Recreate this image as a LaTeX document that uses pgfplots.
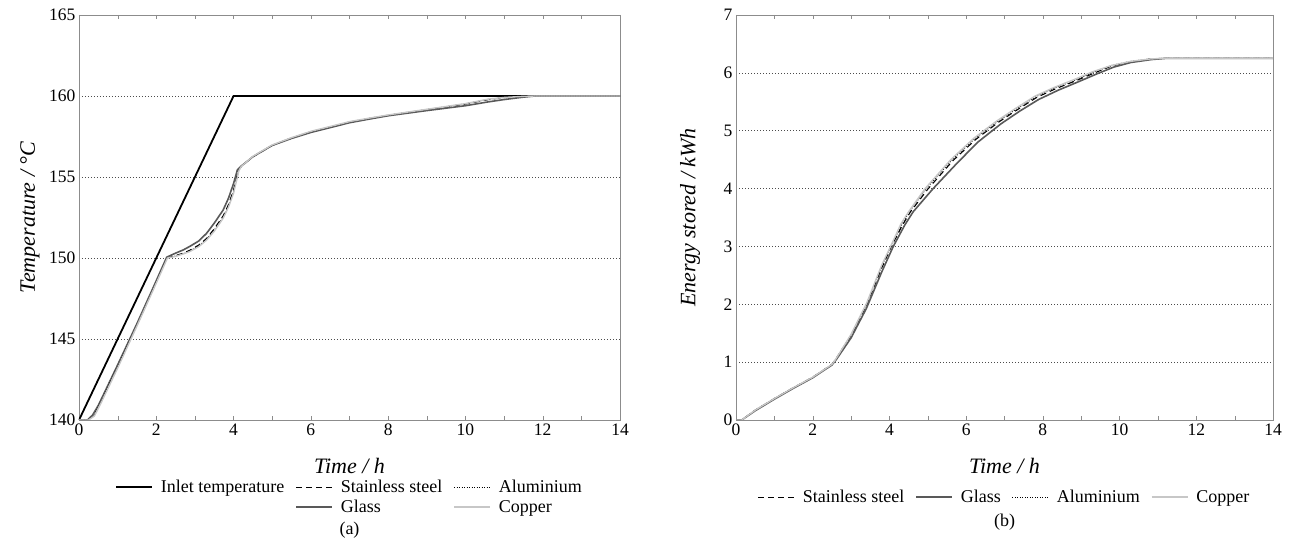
\documentclass[border=0pt]{standalone}
\usepackage{fontspec}
\setmainfont{Liberation Serif}
\usepackage{pgfplots}
\pgfplotsset{compat=1.18}

\definecolor{glassgray}{gray}{0.35}
\definecolor{coppergray}{gray}{0.78}

\pgfplotsset{
  panel/.style={
    scale only axis,
    axis line style={draw=black!45},
    xmin=0, xmax=14,
    xtick={0,2,...,14},
    minor x tick num=1,
    xtick pos=both,
    tick align=inside,
    major tick length=4pt,
    minor tick length=4pt,
    xtick style={draw=black!45},
    ytick style={draw=none},
    ymajorgrids,
    major grid style={black!70, dash pattern=on 1pt off 2pt, line width=0.6pt},
    /pgf/number format/assume math mode=true,
    tick label style={font=\fontsize{17.5}{20}\selectfont},
    label style={font=\fontsize{22}{25}\selectfont\itshape},
    xlabel style={at={([yshift=-46pt]axis description cs:0.5,0)}, anchor=center},
    legend cell align=left,
    legend style={draw=none, fill=none, font=\fontsize{18}{21}\selectfont,
      /tikz/every odd column/.append style={column sep=6pt},
      /tikz/every even column/.append style={column sep=9pt},
      /tikz/row sep=2pt},
    legend image code/.code={\draw[#1] (0pt,0pt) -- (36pt,0pt);},
  },
  inlet/.style={black, line width=1.8pt},
  steel/.style={black, line width=1.1pt, dash pattern=on 6pt off 4pt},
  glass/.style={glassgray, line width=1.6pt},
  alu/.style={black, line width=0.9pt, dash pattern=on 1pt off 1.5pt},
  copper/.style={coppergray, line width=1.4pt},
}

\begin{document}
\begin{tikzpicture}
% page frame, same margins as the reference
\path (-79pt,-119pt) rectangle (1214pt,420pt);

% (a) temperature
\begin{axis}[
  panel,
  name=left,
  width=541pt, height=405pt,
  ymin=140, ymax=165,
  ytick={140,145,...,165},
  xlabel={Time / h},
  ylabel={Temperature / °C},
  ylabel style={at={([xshift=-49pt]axis description cs:0,0.5)}, anchor=center},
  legend columns=3,
  legend style={at={(axis description cs:0.5,0)}, anchor=north, yshift=-56pt},
]
\addplot[inlet, forget plot] coordinates {(0,140) (4,160) (14,160)};
\addplot[steel, forget plot] coordinates {
  (0,140) (0.22,140) (0.35,140.25) (0.5,140.85) (1,143.35) (1.5,145.9) (2,148.55)
  (2.27,150.0) (2.5,150.15) (2.7,150.3) (2.87,150.48) (3.1,150.8) (3.3,151.2)
  (3.5,151.8) (3.73,152.6) (3.87,153.3) (4.0,154.2) (4.12,155.4) (4.2,155.65)
  (4.5,156.25) (5,156.95) (5.5,157.4) (6,157.78) (6.5,158.08) (7,158.38)
  (7.5,158.6) (8,158.8) (9,159.15) (10,159.5) (10.6,159.78) (11,159.9)
  (11.5,159.98) (11.8,160) (14,160)};
\addplot[glass, forget plot] coordinates {
  (0,140) (0.22,140) (0.35,140.3) (0.5,140.9) (1,143.4) (1.5,145.95) (2,148.6)
  (2.27,150.05) (2.5,150.3) (2.7,150.5) (2.87,150.72) (3.1,151.05) (3.3,151.52)
  (3.5,152.15) (3.73,152.96) (3.87,153.7) (4.0,154.6) (4.1,155.45) (4.2,155.68)
  (4.5,156.25) (5,156.95) (5.5,157.38) (6,157.75) (6.5,158.05) (7,158.35)
  (7.5,158.57) (8,158.78) (9,159.1) (10,159.4) (10.6,159.64) (11,159.78)
  (11.5,159.93) (11.8,160) (14,160)};
\addplot[alu, forget plot] coordinates {
  (0,140) (0.24,140) (0.38,140.25) (0.5,140.8) (1,143.3) (1.5,145.85) (2,148.5)
  (2.28,150.0) (2.5,150.12) (2.7,150.27) (2.87,150.43) (3.1,150.75) (3.3,151.15)
  (3.5,151.72) (3.73,152.5) (3.87,153.2) (4.0,154.1) (4.13,155.4) (4.2,155.65)
  (4.5,156.27) (5,156.97) (5.5,157.42) (6,157.8) (6.5,158.1) (7,158.4)
  (7.5,158.62) (8,158.82) (9,159.17) (10,159.52) (10.6,159.8) (11,159.9)
  (11.5,159.98) (11.8,160) (14,160)};
\addplot[copper, forget plot] coordinates {
  (0,140) (0.25,140) (0.4,140.25) (0.55,140.95) (1,143.2) (1.5,145.8) (2,148.45)
  (2.29,150.0) (2.5,150.1) (2.7,150.25) (2.87,150.4) (3.1,150.7) (3.3,151.1)
  (3.5,151.65) (3.73,152.45) (3.87,153.15) (4.0,154.0) (4.14,155.4) (4.2,155.65)
  (4.5,156.28) (5,156.98) (5.5,157.43) (6,157.82) (6.5,158.12) (7,158.42)
  (7.5,158.63) (8,158.83) (9,159.18) (10,159.53) (10.6,159.81) (11,159.91)
  (11.5,159.98) (11.8,160) (14,160)};
\addlegendimage{inlet}\addlegendentry{Inlet temperature}
\addlegendimage{steel}\addlegendentry{Stainless steel}
\addlegendimage{alu}\addlegendentry{Aluminium}
\addlegendimage{empty legend}\addlegendentry{}
\addlegendimage{glass}\addlegendentry{Glass}
\addlegendimage{copper}\addlegendentry{Copper}
\end{axis}
\node[font=\fontsize{18}{21}\selectfont] at ([yshift=-110pt]left.south) {(a)};

% (b) energy
\begin{axis}[
  panel,
  name=right,
  at={(657pt,0pt)},
  width=537pt, height=405pt,
  ymin=0, ymax=7,
  ytick={0,1,...,7},
  xlabel={Time / h},
  ylabel={Energy stored / kWh},
  ylabel style={at={([xshift=-46pt]axis description cs:0,0.5)}, anchor=center},
  legend columns=4,
  legend style={at={(axis description cs:0.5,0)}, anchor=north, yshift=-66pt},
]
\addplot[steel] coordinates {
  (0,0) (0.15,0) (0.5,0.17) (1,0.37) (1.5,0.56) (2,0.74) (2.5,0.96) (2.6,1.05)
  (3.0,1.46) (3.4,1.98) (3.8,2.63) (4.05,3.0) (4.35,3.38) (4.55,3.6) (5.0,3.99)
  (5.65,4.48) (6.25,4.85) (6.85,5.15) (7.35,5.37) (7.85,5.58) (8.35,5.73)
  (8.85,5.86) (9.35,6.0) (9.8,6.12) (10.3,6.19) (10.8,6.24) (11.1,6.25) (14,6.25)};
\addlegendentry{Stainless steel}
\addplot[glass] coordinates {
  (0,0) (0.15,0) (0.5,0.16) (1,0.36) (1.5,0.55) (2,0.73) (2.5,0.95) (2.62,1.05)
  (3.0,1.42) (3.4,1.93) (3.8,2.56) (4.1,3.0) (4.4,3.37) (4.62,3.6) (5.14,4.0)
  (5.75,4.43) (6.3,4.8) (6.91,5.12) (7.4,5.34) (7.89,5.54) (8.4,5.7) (8.87,5.83)
  (9.4,5.98) (9.85,6.1) (10.3,6.18) (10.83,6.23) (11.2,6.25) (14,6.25)};
\addlegendentry{Glass}
\addplot[alu] coordinates {
  (0,0) (0.15,0) (0.5,0.17) (1,0.37) (1.5,0.56) (2,0.74) (2.5,0.96) (2.6,1.05)
  (3.0,1.47) (3.4,2.0) (3.8,2.66) (4.04,3.0) (4.33,3.39) (4.52,3.6) (4.96,4.0)
  (5.62,4.49) (6.22,4.86) (6.82,5.16) (7.32,5.38) (7.82,5.59) (8.32,5.74)
  (8.82,5.87) (9.32,6.01) (9.8,6.13) (10.3,6.2) (10.8,6.24) (11.1,6.25) (14,6.25)};
\addlegendentry{Aluminium}
\addplot[copper] coordinates {
  (0,0) (0.15,0) (0.5,0.17) (1,0.37) (1.5,0.56) (2,0.74) (2.5,0.96) (2.6,1.05)
  (3.0,1.48) (3.4,2.01) (3.8,2.68) (4.03,3.0) (4.3,3.39) (4.5,3.6) (4.93,4.0)
  (5.6,4.5) (6.2,4.87) (6.8,5.17) (7.3,5.39) (7.8,5.6) (8.3,5.75) (8.8,5.88)
  (9.3,6.02) (9.8,6.13) (10.3,6.2) (10.8,6.24) (11.1,6.25) (14,6.25)};
\addlegendentry{Copper}
\end{axis}
\node[font=\fontsize{18}{21}\selectfont] at ([yshift=-102pt]right.south) {(b)};
\end{tikzpicture}
\end{document}
